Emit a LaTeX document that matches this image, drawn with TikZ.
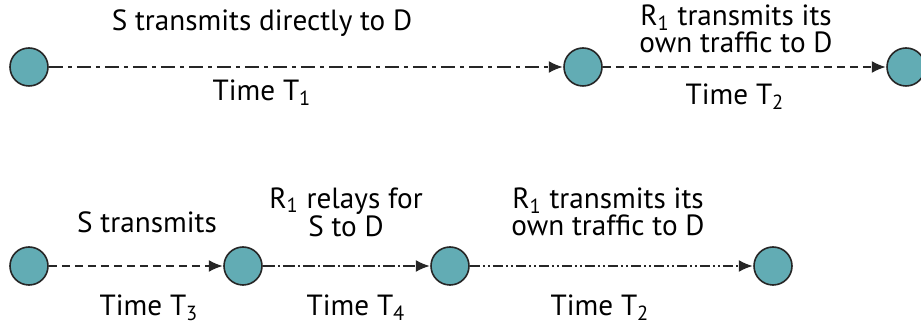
\documentclass[tikz,border=0pt]{standalone}
\usepackage{fontspec}
\setmainfont{PT Sans}
\usetikzlibrary{arrows.meta}

\definecolor{stationfill}{RGB}{98,172,180}
\newcommand{\lowsub}[1]{\textsubscript{#1}}

\begin{document}
\begin{tikzpicture}[x=0.5pt,y=-0.5pt,
            station/.style = {circle,draw=black!85,line width=0.8pt,
                fill=stationfill,minimum size=19pt,inner sep=0pt},
            lbl/.style = {align=center,anchor=base,inner sep=0pt,
                font=\fontsize{14.6pt}{12.5pt}\selectfont},
            link/.style = {line width=0.9pt,black!85,
                -{Latex[length=7pt,width=6pt]},shorten >=0.2pt},
            dashdot/.style = {dash pattern=on 7pt off 2.5pt on 2pt off 2.5pt},
            dashdotdot/.style = {dash pattern=on 5pt off 1.5pt on 1pt off 1.5pt on 1pt off 1.5pt}]
            \useasboundingbox (0,0) rectangle (921,325);
            % first schedule
            \node[station] (t1) at (29,67) {};
            \node[station] (t2) at (583,67) {};
            \node[station] (t3) at (906,67) {};
            \path[link]
                (t1) edge[dashdot] (t2)
                (t2) edge[dash pattern=on 4pt off 2.5pt] (t3);
            % two-line labels sit on the baseline of their last line
            \node[lbl] (h1) at (262,31) {S transmits directly to D};
            \node[lbl] (h2) at (736,53) {R\lowsub{1} transmits its\\own traffic to D};
            \node[lbl] (p1) at (262,101) {Time T\lowsub{1}};
            \node[lbl] (p2) at (735,105) {Time T\lowsub{2}};
            % second schedule
            \node[station] (b1) at (29,266) {};
            \node[station] (b2) at (243,266) {};
            \node[station] (b3) at (450,266) {};
            \node[station] (b4) at (773,266) {};
            \path[link]
                (b1) edge[dash pattern=on 4pt off 2.5pt] (b2)
                (b2) edge[dash pattern=on 6pt off 1.5pt on 1pt off 1.5pt] (b3)
                (b3) edge[dashdotdot] (b4);
            \node[lbl] (h3) at (147,233) {S transmits};
            \node[lbl] (h4) at (346,237) {R\lowsub{1} relays for\\S to D};
            \node[lbl] (h5) at (608,236) {R\lowsub{1} transmits its\\own traffic to D};
            \node[lbl] (p3) at (149,316) {Time T\lowsub{3}};
            \node[lbl] (p4) at (356,316) {Time T\lowsub{4}};
            \node[lbl] (p5) at (600,316) {Time T\lowsub{2}};
\end{tikzpicture}
\end{document}
